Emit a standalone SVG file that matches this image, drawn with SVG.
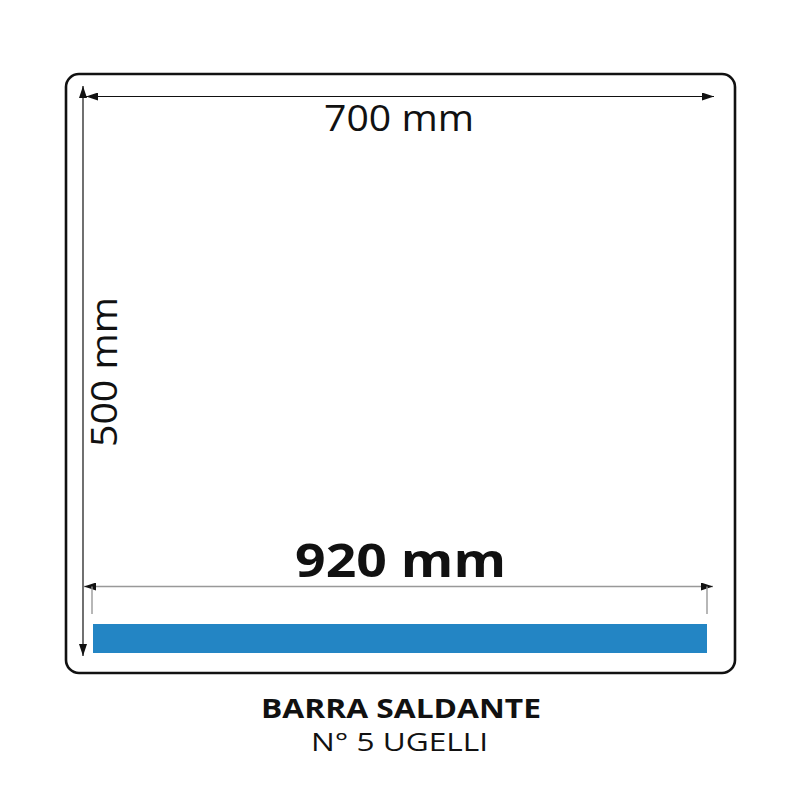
<svg xmlns="http://www.w3.org/2000/svg" width="800" height="800" viewBox="0 0 800 800">
<defs>
<style>
.frame{fill:none;stroke:#111;stroke-width:2.6}
.dim{stroke:#111;stroke-width:1.2;fill:none}
.dimg{stroke:#999;stroke-width:1.4;fill:none}
.lbl{font-family:"Open Sans","Liberation Sans",sans-serif;fill:#111}
</style>
<marker id="ah" viewBox="0 0 12 8" refX="12" refY="4" markerWidth="12" markerHeight="8" markerUnits="userSpaceOnUse" orient="auto-start-reverse">
<path d="M0,0 L12,4 L0,8 Z" fill="#111"/>
</marker>
</defs>
<rect width="800" height="800" fill="#fff"/>
<g id="frame">
<rect class="frame" x="66" y="74" width="669" height="599" rx="13"/>
</g>
<g id="bar">
<rect x="93" y="624" width="614" height="29" fill="#2385c4"/>
</g>
<g id="connectors">
<line class="dim" x1="86" y1="96.5" x2="714" y2="96.5" marker-start="url(#ah)" marker-end="url(#ah)"/>
<line class="dim" x1="83" y1="86" x2="83" y2="656" marker-start="url(#ah)" marker-end="url(#ah)"/>
<line class="dimg" x1="84" y1="586.5" x2="713" y2="586.5" marker-start="url(#ah)" marker-end="url(#ah)"/>
<line class="dimg" x1="92" y1="586.5" x2="92" y2="614"/>
<line class="dimg" x1="707" y1="586.5" x2="707" y2="614"/>
</g>
<g id="label-700">
<text class="lbl" x="399" y="131" font-size="36" text-anchor="middle" textLength="150" lengthAdjust="spacingAndGlyphs">700 mm</text>
</g>
<g id="label-500">
<text class="lbl" transform="translate(117,372) rotate(-90)" x="0" y="0" font-size="36" text-anchor="middle" textLength="150" lengthAdjust="spacingAndGlyphs">500 mm</text>
</g>
<g id="label-920">
<text class="lbl" x="400.5" y="577" font-size="46" font-weight="700" text-anchor="middle" textLength="211" lengthAdjust="spacingAndGlyphs">920 mm</text>
</g>
<g id="caption">
<text class="lbl" x="401" y="718" font-size="26" font-weight="700" text-anchor="middle" textLength="280" lengthAdjust="spacingAndGlyphs">BARRA SALDANTE</text>
<text class="lbl" x="399.5" y="751" font-size="26" text-anchor="middle" textLength="177" lengthAdjust="spacingAndGlyphs">N° 5 UGELLI</text>
</g>
</svg>
